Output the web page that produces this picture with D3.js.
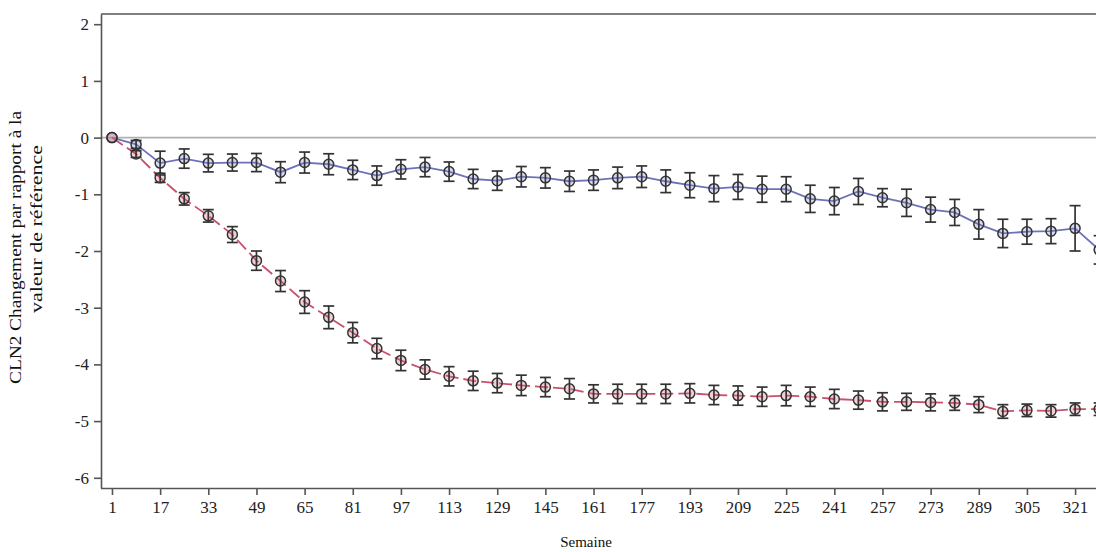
<!DOCTYPE html>
<html>
<head>
<meta charset="utf-8">
<script src="https://cdn.jsdelivr.net/npm/d3@7"></script>
<style>
  html, body { margin: 0; padding: 0; background: #fff; }
  svg { display: block; }
</style>
</head>
<body>
<svg id="chart" width="1096" height="552"></svg>
<script>
// ---- data ----
const weeks = [1, 9, 17, 25, 33, 41, 49, 57, 65, 73, 81, 89, 97, 105, 113, 121, 129, 137, 145, 153, 161,
  169, 177, 185, 193, 201, 209, 217, 225, 233, 241, 249, 257, 265, 273, 281, 289, 297, 305, 313, 321, 329];

const blueMean = [0, -0.12, -0.45, -0.37, -0.45, -0.44, -0.44, -0.61, -0.44, -0.47, -0.57, -0.67, -0.56, -0.52,
  -0.60, -0.73, -0.76, -0.69, -0.71, -0.77, -0.75, -0.71, -0.69, -0.77, -0.84, -0.90, -0.87, -0.91, -0.91,
  -1.08, -1.12, -0.95, -1.06, -1.15, -1.27, -1.32, -1.53, -1.69, -1.66, -1.65, -1.60, -1.98];
const blueErr = [0, 0.07, 0.21, 0.17, 0.155, 0.15, 0.16, 0.185, 0.185, 0.185, 0.17, 0.17, 0.17, 0.17,
  0.17, 0.17, 0.17, 0.18, 0.18, 0.18, 0.18, 0.19, 0.19, 0.2, 0.22, 0.23, 0.22, 0.23, 0.22,
  0.24, 0.24, 0.23, 0.16, 0.24, 0.22, 0.23, 0.26, 0.25, 0.22, 0.22, 0.40, 0.25];

const redMean = [0, -0.29, -0.71, -1.08, -1.38, -1.71, -2.17, -2.53, -2.90, -3.17, -3.44, -3.72, -3.93, -4.09,
  -4.21, -4.29, -4.33, -4.37, -4.40, -4.43, -4.52, -4.52, -4.52, -4.52, -4.51, -4.54, -4.55, -4.57, -4.55,
  -4.57, -4.61, -4.63, -4.66, -4.66, -4.67, -4.68, -4.71, -4.83, -4.81, -4.82, -4.79, -4.79];
const redErr = [0, 0.06, 0.08, 0.11, 0.11, 0.14, 0.17, 0.185, 0.2, 0.2, 0.18, 0.18, 0.18, 0.17,
  0.17, 0.17, 0.17, 0.18, 0.17, 0.18, 0.16, 0.17, 0.17, 0.17, 0.17, 0.17, 0.17, 0.17, 0.18,
  0.17, 0.17, 0.16, 0.16, 0.15, 0.15, 0.13, 0.14, 0.12, 0.11, 0.11, 0.11, 0.11];

const xTicks = [1, 17, 33, 49, 65, 81, 97, 113, 129, 145, 161, 177, 193, 209, 225, 241, 257, 273, 289, 305, 321];
const yTicks = [2, 1, 0, -1, -2, -3, -4, -5, -6];

const xLabel = "Semaine";
const yLabel1 = "CLN2 Changement par rapport à la";
const yLabel2 = "valeur de référence";

// ---- layout ----
const svg = d3.select("#chart");
const padL = 101, padR = 1110, padT = 14, padB = 488;
const font = "'Liberation Serif', 'Times New Roman', serif";

const x = d3.scaleLinear().domain([-2.65, 332.6]).range([padL, padR]);
const y = d3.scaleLinear().domain([-6.18, 2.18]).range([padB, padT]);

const series = [
  { mean: blueMean, err: blueErr, color: "#6d72b8", fill: "rgba(130,138,205,0.3)", dash: null },
  { mean: redMean, err: redErr, color: "#c9506c", fill: "rgba(210,100,120,0.3)", dash: "13,5" }
];

// zero reference line
svg.append("line")
  .attr("x1", padL).attr("x2", 1096)
  .attr("y1", y(0)).attr("y2", y(0))
  .attr("stroke", "#b0b0b0").attr("stroke-width", 1.6);

// top frame
svg.append("line")
  .attr("x1", padL).attr("x2", 1096)
  .attr("y1", padT).attr("y2", padT)
  .attr("stroke", "#555").attr("stroke-width", 1.6);

// axes
const fmt = d => String(d);
const xAxis = svg.append("g")
  .attr("transform", `translate(0,${padB})`)
  .call(d3.axisBottom(x).tickValues(xTicks).tickSize(7).tickSizeOuter(0).tickFormat(fmt));
const yAxis = svg.append("g")
  .attr("transform", `translate(${padL},0)`)
  .call(d3.axisLeft(y).tickValues(yTicks).tickSize(7).tickSizeOuter(0).tickFormat(fmt));

[xAxis, yAxis].forEach(g => {
  g.attr("font-family", null).attr("font-size", null);
  g.select(".domain").attr("stroke", "#555").attr("stroke-width", 1.6);
  g.selectAll(".tick line").attr("stroke", "#555").attr("stroke-width", 1.6);
  g.selectAll(".tick text").attr("fill", "#222").style("font-family", font).style("font-size", "17px");
});
xAxis.select(".domain").attr("d", `M${padL},0.5H1096`);
xAxis.selectAll(".tick text").attr("y", 13);
yAxis.selectAll(".tick text").attr("x", -12);

// lines
const line = d3.line().x((d, i) => x(weeks[i])).y(d => y(d));
series.forEach(s => {
  svg.append("path")
    .datum(s.mean)
    .attr("d", line)
    .attr("fill", "none")
    .attr("stroke", s.color)
    .attr("stroke-width", 1.8)
    .attr("stroke-dasharray", s.dash);
});

// markers and error bars
series.forEach(s => {
  const g = svg.append("g");
  const pts = s.mean.map((m, i) => ({ w: weeks[i], m, e: s.err[i] }));
  g.selectAll("circle").data(pts).join("circle")
    .attr("cx", d => x(d.w)).attr("cy", d => y(d.m)).attr("r", 5)
    .attr("fill", s.fill).attr("stroke", "#333").attr("stroke-width", 1.5);
  const eb = g.selectAll("g.eb").data(pts.filter(d => d.e > 0)).join("g").attr("class", "eb")
    .attr("stroke", "#333").attr("stroke-width", 1.7);
  eb.append("line")
    .attr("x1", d => x(d.w)).attr("x2", d => x(d.w))
    .attr("y1", d => y(d.m + d.e)).attr("y2", d => y(d.m - d.e));
  eb.append("line")
    .attr("x1", d => x(d.w) - 5.5).attr("x2", d => x(d.w) + 5.5)
    .attr("y1", d => y(d.m + d.e)).attr("y2", d => y(d.m + d.e));
  eb.append("line")
    .attr("x1", d => x(d.w) - 5.5).attr("x2", d => x(d.w) + 5.5)
    .attr("y1", d => y(d.m - d.e)).attr("y2", d => y(d.m - d.e));
});

// axis titles
svg.append("text")
  .attr("x", 586).attr("y", 547)
  .attr("text-anchor", "middle")
  .style("font-family", font).style("font-size", "15px").attr("fill", "#111")
  .text(xLabel);

svg.append("text")
  .attr("transform", "translate(21,247.5) rotate(-90)")
  .attr("text-anchor", "middle")
  .attr("textLength", 273).attr("lengthAdjust", "spacingAndGlyphs")
  .style("font-family", font).style("font-size", "16px").attr("fill", "#111")
  .text(yLabel1);
svg.append("text")
  .attr("transform", "translate(42,229) rotate(-90)")
  .attr("text-anchor", "middle")
  .attr("textLength", 168).attr("lengthAdjust", "spacingAndGlyphs")
  .style("font-family", font).style("font-size", "16px").attr("fill", "#111")
  .text(yLabel2);
</script>
</body>
</html>
